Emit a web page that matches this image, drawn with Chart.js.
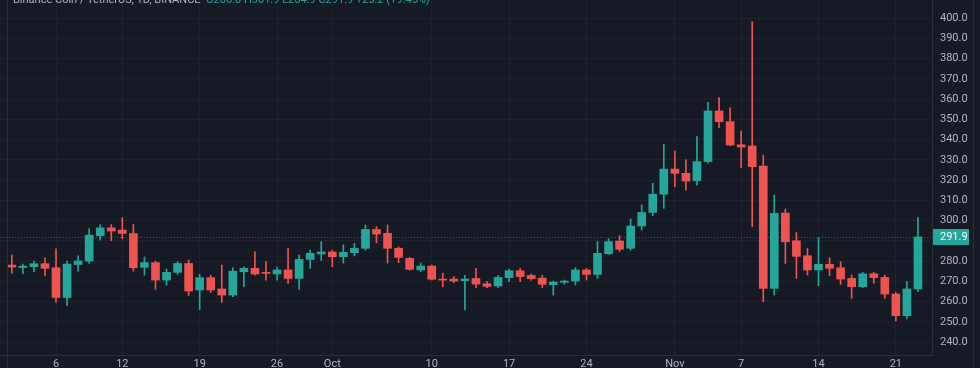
<!DOCTYPE html>
<html>
<head>
<meta charset="utf-8">
<script src="https://cdn.jsdelivr.net/npm/chart.js@4.4.1/dist/chart.umd.min.js"></script>
<style>
  html, body { margin: 0; padding: 0; background: #161a25; overflow: hidden; }
  #wrap { position: relative; width: 980px; height: 368px; }
  #title {
    position: absolute; left: 13px; top: -7px;
    font: 11px Roboto, "DejaVu Sans", sans-serif; color: #b2b5be; white-space: nowrap;
  }
  #title span { color: #26a69a; }
</style>
</head>
<body>
<div id="wrap">
  <canvas id="chart" width="980" height="368"></canvas>
  <div id="title">Binance Coin / TetherUS, 1D, BINANCE&nbsp; <span>O266.0 H301.9 L264.9 C291.9 +25.2 (+9.45%)</span></div>
</div>
<script>
// daily candles, 2 Sep .. 23 Nov
const opens = [
  278, 276.8, 277.2, 278.7, 276.7, 262, 278.3, 280, 292.5, 296.4, 295.3, 293.6, 276.9, 279.2, 270.6, 274.4, 278.8, 265.7, 271.8, 266.2, 263.2, 274.7, 276.4, 274.2, 273.6, 275.6, 271.4, 280.8, 283.5,
  284.5, 282.1, 284.1, 286.3, 295.6, 293.7, 286.3, 281.3, 275.6, 277.5, 271.1, 271.1, 270.3, 271.4, 268.8, 267.7, 271.8, 275.2, 272.9, 271.6, 268.3, 269.5, 270.1, 275.6, 273.4, 283.6, 289.9, 286.3, 297.3, 304, 313,
  325.4, 323.3, 319.7, 329.1, 354.1, 348.8, 337.4, 336.8, 326.9, 266.5, 303.7, 290, 282.6, 275.6, 278.4, 276.7, 271.4, 267.3, 273.7, 271.9, 263.7, 253, 266.2
];
const highs = [
  283, 278.5, 280, 281.6, 286, 280, 282.6, 296, 298, 298, 301.4, 298, 282, 280, 276, 279.7, 280.5, 273.4, 273, 278, 276.7, 277.2, 284.6, 279.7, 277, 286.3, 283, 285.4, 289.6,
  285.4, 288, 288.7, 297.8, 297, 297.8, 287, 281.8, 279, 278, 274, 272.3, 273, 276.4, 270, 273, 276, 276.4, 273.6, 273, 270.1, 270.6, 276.7, 276.4, 289.6, 291, 292.5, 300.8, 307.7, 318.4, 337.6,
  334.3, 330, 341.4, 358.4, 360.7, 355.7, 344.2, 398.2, 332.3, 312.6, 305.7, 294, 286.2, 291.5, 281.6, 279.7, 273.1, 274.4, 274.4, 273.1, 264.5, 269.8, 301.4
];
const lows = [
  274, 273.8, 274.7, 272.6, 259.6, 258, 275, 278.8, 290.4, 290, 291, 275, 273, 266, 268, 273.4, 263, 256, 264.5, 259.6, 262.4, 267.3, 273, 270.6, 270.6, 269, 266, 276.4, 280.2,
  277.2, 279, 282.5, 285.4, 289, 279, 279.2, 275.5, 274.7, 270.6, 267.3, 269.3, 255.8, 266.8, 266.8, 266.8, 269.8, 269.8, 270.5, 266.8, 263.2, 268.5, 268.2, 270.6, 271.4, 283.3, 284.6, 285.4, 295.3, 302.4, 306,
  316.7, 315, 317.5, 328.3, 345.8, 337, 326.1, 297, 259.9, 263.2, 278.8, 271.4, 273.1, 267.8, 272.8, 268.5, 261.6, 266.8, 269, 261.6, 250.4, 251.4, 264.9
];
const closes = [
  277, 277.5, 278.7, 276.4, 262, 278.5, 280, 292.8, 296.4, 294.8, 293.6, 276.7, 279.2, 270.6, 274.4, 278.8, 265.2, 271.8, 265.7, 263.2, 275, 276.4, 273.6, 273.9, 275.6, 271.4, 280.8, 283.8, 284.5,
  282.1, 284.3, 286.3, 295.6, 293.3, 286.3, 281.8, 275.9, 277.5, 271, 270.6, 270.1, 271.1, 268.6, 267.5, 271.9, 275.2, 272.3, 271.3, 268.5, 269.6, 270.1, 275.6, 273.4, 283.8, 289.6, 285.8, 297.3, 304, 313, 325.4,
  323.3, 319.5, 329.1, 354.1, 348.8, 337.3, 336.3, 326.6, 266.5, 303.5, 289.5, 282.3, 275.6, 278.4, 276.4, 271.1, 267.3, 273.7, 271.8, 263.7, 253, 266.2, 291.9
];

// x axis labels (index of the day from 2 Sep)
const tickIdx = [4, 10, 17, 24, 29, 38, 45, 52, 60, 66, 73, 80];
const tickLabels = ['6', '12', '19', '26', 'Oct', '10', '17', '24', 'Nov', '7', '14', '21'];
const priceTicks = [240, 250, 260, 270, 280, 290, 300, 310, 320, 330, 340, 350, 360, 370, 380, 390, 400];
const lastPrice = 291.9;

const UP = '#26a69a';
const DOWN = '#ef5350';
const TEXT = '#b2b5be';
const GRID = '#1e222d';

const colors = closes.map((c, i) => c >= opens[i] ? UP : DOWN);

const lastPricePlugin = {
  id: 'lastPrice',
  afterDatasetsDraw(chart) {
    const { ctx, chartArea, scales } = chart;
    const y = Math.round(scales.y.getPixelForValue(lastPrice)) + 0.5;
    ctx.save();
    ctx.strokeStyle = 'rgba(38,166,154,0.55)';
    ctx.lineWidth = 1;
    ctx.setLineDash([1, 2]);
    ctx.beginPath();
    ctx.moveTo(chartArea.left, y);
    ctx.lineTo(chartArea.right, y);
    ctx.stroke();
    ctx.restore();
  },
  afterDraw(chart) {
    const { ctx, chartArea, scales } = chart;
    const y = Math.round(scales.y.getPixelForValue(lastPrice));
    ctx.save();
    ctx.fillStyle = UP;
    ctx.fillRect(chartArea.right + 1, y - 8, 36, 16);
    ctx.fillStyle = '#ffffff';
    ctx.font = '11px Roboto, "DejaVu Sans", sans-serif';
    ctx.textBaseline = 'middle';
    ctx.fillText(lastPrice.toFixed(1), chartArea.right + 8, y + 0.5);
    // panel edge lines
    ctx.strokeStyle = '#2a2e39';
    ctx.beginPath();
    ctx.moveTo(973.5, 0);
    ctx.lineTo(973.5, 368);
    ctx.moveTo(7.5, 0);
    ctx.lineTo(7.5, 368);
    ctx.stroke();
    ctx.restore();
  }
};

const ctx = document.getElementById('chart').getContext('2d');
new Chart(ctx, {
  type: 'bar',
  data: {
    datasets: [
      {
        // wicks
        data: lows.map((l, i) => ({ x: i, y: [l, highs[i]] })),
        backgroundColor: colors,
        barThickness: 1,
        grouped: false,
        order: 2
      },
      {
        // bodies
        data: opens.map((o, i) => ({ x: i, y: [o, closes[i]] })),
        backgroundColor: colors,
        barThickness: 8,
        minBarLength: 1,
        grouped: false,
        order: 1
      }
    ]
  },
  options: {
    responsive: false,
    animation: false,
    layout: { padding: 0 },
    plugins: {
      legend: { display: false },
      tooltip: { enabled: false }
    },
    scales: {
      x: {
        type: 'linear',
        offset: false,
        min: -1.07,
        max: 83.27,
        afterBuildTicks: scale => { scale.ticks = tickIdx.map(v => ({ value: v })); },
        afterFit: scale => {
          scale.height = 13;
          scale.paddingLeft = 0;
          scale.paddingRight = 0;
        },
        ticks: {
          autoSkip: false,
          maxRotation: 0,
          padding: 3,
          color: TEXT,
          font: { family: 'Roboto', size: 11 },
          callback: v => tickLabels[tickIdx.indexOf(v)]
        },
        grid: { color: GRID, drawTicks: false, offset: false },
        border: { color: '#2a2e39' }
      },
      y: {
        position: 'right',
        min: 233.6,
        max: 408.9,
        afterBuildTicks: scale => { scale.ticks = priceTicks.map(v => ({ value: v })); },
        afterFit: scale => {
          scale.width = 48;
          scale.paddingTop = 0;
          scale.paddingBottom = 0;
        },
        ticks: {
          padding: 8,
          color: TEXT,
          font: { family: 'Roboto', size: 11 },
          callback: v => v.toFixed(1)
        },
        grid: { color: GRID, drawTicks: false },
        border: { color: '#2a2e39' }
      }
    }
  },
  plugins: [lastPricePlugin]
});
</script>
</body>
</html>
